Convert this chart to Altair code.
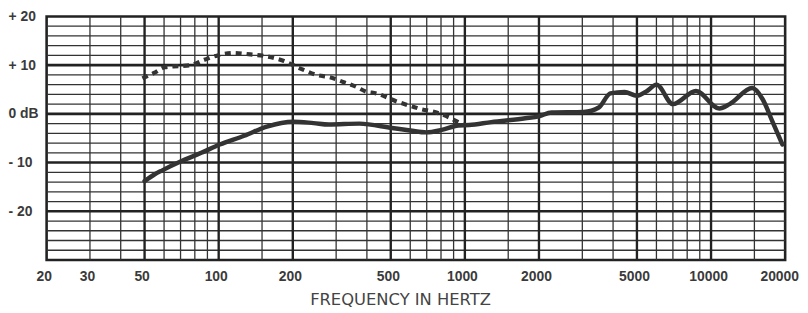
import altair as alt
import pandas as pd

# ---- data ----
solid_freq = [50, 55, 59, 70, 85, 101, 127, 157, 201, 243, 280, 373, 506, 600, 697, 806, 940,
              1040, 1280, 1760, 2000, 2250, 3040, 3500, 3900, 4450, 5000, 5500, 6000, 7000,
              8680, 10800, 11900, 14700, 16200, 17800, 19500]
solid_db = [-13.8, -12.4, -11.6, -9.8, -8.0, -6.3, -4.5, -2.6, -1.6, -1.9, -2.2, -2.0, -2.9, -3.4,
            -3.8, -3.3, -2.4, -2.3, -1.7, -0.9, -0.5, 0.3, 0.4, 1.3, 4.2, 4.5, 3.7, 4.7, 6.0, 2.0,
            4.7, 1.1, 2.0, 5.3, 3.0, -1.7, -6.3]

dotted_freq = [49, 54.6, 60.6, 68.5, 77, 87.5, 99, 115, 134.5, 157, 183, 215, 250, 283, 322, 364,
               395, 437, 525, 612, 672, 740, 860, 940, 1000]
dotted_db = [7.3, 8.4, 9.6, 9.8, 10.0, 11.1, 12.0, 12.5, 12.2, 11.8, 10.9, 9.3, 8.0, 7.5, 6.5, 5.5,
             4.6, 4.2, 2.6, 1.5, 0.9, 0.5, -0.7, -1.7, -2.3]

x_tick_values = [20, 30, 50, 100, 200, 500, 1000, 2000, 5000, 10000, 20000]
x_tick_labels = ["20", "30", "50", "100", "200", "500", "1000", "2000", "5000", "10000", "20000"]
y_tick_values = [20, 10, 0, -10, -20]
y_tick_labels = ["+ 20", "+ 10", "0 dB", "- 10", "- 20"]

grid_major_freq = [50, 100, 200, 500, 1000, 2000, 5000, 10000]
grid_minor_freq = [30, 40, 60, 70, 80, 90, 150, 300, 400, 600, 700, 800, 900, 1500,
                   3000, 4000, 6000, 7000, 8000, 9000, 15000]
grid_major_db = [10, 0, -10, -20]
grid_minor_db = [18, 16, 14, 12, 8, 6, 4, 2, -2, -4, -6, -8, -12, -14, -16, -18,
                 -22, -24, -26, -28]

x_title = "FREQUENCY IN HERTZ"

# ---- chart ----
xscale = alt.Scale(type="log", domain=[20, 20000], nice=False)
yscale = alt.Scale(domain=[-30, 20], nice=False, zero=False)

def label_expr(values, labels):
    parts = []
    for v, l in zip(values, labels):
        parts.append(f"datum.value == {v} ? '{l}' : ")
    return "".join(parts) + "''"

x_axis = alt.Axis(values=x_tick_values, labelExpr=label_expr(x_tick_values, x_tick_labels),
                  grid=False, ticks=False, tickSize=0, domain=False,
                  labelFont="Liberation Sans", labelFontSize=14, labelFontWeight="bold",
                  labelColor="#3a3a3a", labelPadding=10,
                  labelOffset={"condition": {"test": "datum.value >= 20000", "value": -6},
                               "value": -3},
                  labelFlush=False, labelOverlap=False, labelBound=False,
                  title=x_title, titleFont="DejaVu Sans", titleFontSize=16.5,
                  titleFontWeight="normal", titleColor="#444444",
                  titleX=357, titleY=40, titleAlign="center", titleBaseline="middle")
y_axis = alt.Axis(values=y_tick_values, labelExpr=label_expr(y_tick_values, y_tick_labels),
                  grid=False, ticks=False, tickSize=0, domain=False,
                  labelFont="Liberation Sans", labelFontSize=14, labelFontWeight="bold",
                  labelColor="#3a3a3a", labelAlign="left", labelBaseline="middle",
                  labelPadding=39, labelFlush=False, labelOverlap=False,
                  labelBound=False, title=None)

LINE = "#333333"
GRID = "#333333"

v_minor = alt.Chart(pd.DataFrame({"f": grid_minor_freq})).mark_rule(
    color=GRID, strokeWidth=1.3).encode(x=alt.X("f:Q", scale=xscale, axis=x_axis))
v_major = alt.Chart(pd.DataFrame({"f": grid_major_freq})).mark_rule(
    color="#222222", strokeWidth=2.4).encode(x=alt.X("f:Q", scale=xscale, axis=x_axis))
h_minor = alt.Chart(pd.DataFrame({"d": grid_minor_db})).mark_rule(
    color=GRID, strokeWidth=1.3).encode(y=alt.Y("d:Q", scale=yscale, axis=y_axis))
h_major = alt.Chart(pd.DataFrame({"d": grid_major_db})).mark_rule(
    color="#222222", strokeWidth=2.6).encode(y=alt.Y("d:Q", scale=yscale, axis=y_axis))

solid = alt.Chart(pd.DataFrame({"f": solid_freq, "d": solid_db})).mark_line(
    color=LINE, strokeWidth=4.5, interpolate="monotone", strokeJoin="round", strokeCap="round"
).encode(
    x=alt.X("f:Q", scale=xscale, axis=x_axis),
    y=alt.Y("d:Q", scale=yscale, axis=y_axis),
)

dotted = alt.Chart(pd.DataFrame({"f": dotted_freq, "d": dotted_db})).mark_line(
    color=LINE, strokeWidth=4.2, interpolate="monotone", strokeDash=[6, 5], strokeCap="butt"
).encode(
    x=alt.X("f:Q", scale=xscale, axis=x_axis),
    y=alt.Y("d:Q", scale=yscale, axis=y_axis),
)

chart = alt.layer(v_minor, h_minor, v_major, h_major, dotted, solid).properties(
    width=746, height=246,
    autosize=alt.AutoSizeParams(type="none"),
    padding={"left": 39, "top": 7, "right": 15, "bottom": 50},
    background="white",
).configure_view(stroke="#222222", strokeWidth=2.6)

chart.save("out.html", embed_options={"renderer": "svg", "actions": False})
